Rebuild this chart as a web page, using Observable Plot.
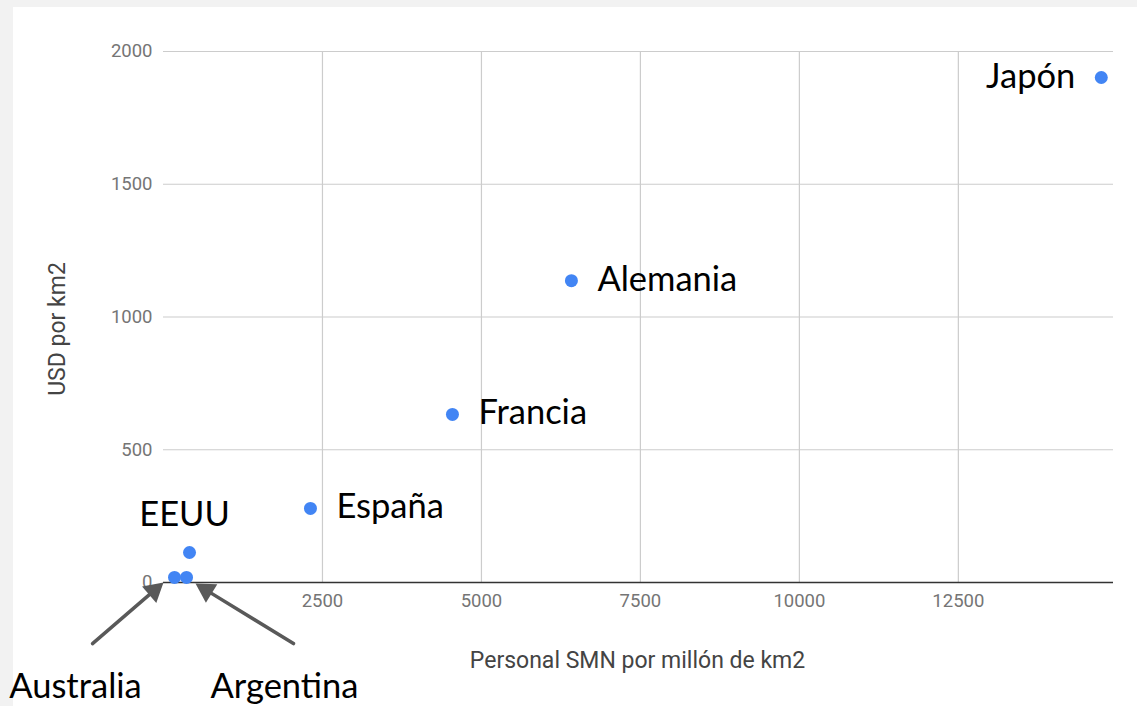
<!DOCTYPE html>
<html>
<head>
<meta charset="utf-8">
<script src="https://cdn.jsdelivr.net/npm/d3@7"></script>
<script src="https://cdn.jsdelivr.net/npm/@observablehq/plot@0.6"></script>
<style>
  html, body { margin: 0; padding: 0; background: #f2f2f2; width: 1137px; height: 706px; overflow: hidden; }
  #chart { position: absolute; left: 13px; top: 7px; }
  #chart svg { background: #ffffff; display: block; overflow: visible; }
</style>
</head>
<body>
<div id="chart"></div>
<script>
// ---- data ----
const countries = ["Japón", "Alemania", "Francia", "España", "EEUU", "Australia", "Argentina"];
const personalSMN = [14748, 6415, 4544, 2311, 409, 173, 362];   // Personal SMN por millón de km2
const usdPorKm2  = [1902, 1137, 633, 279, 113, 19, 19];          // USD por km2
const labelSide  = ["left", "right", "right", "right", "above", "below-left", "below-right"];
const xTicks = [2500, 5000, 7500, 10000, 12500];
const yTicks = [0, 500, 1000, 1500, 2000];
const xTitle = "Personal SMN por millón de km2";
const yTitle = "USD por km2";
// annotation arrows (data units): from label toward point
const arrowLabels = ["Australia", "Argentina"];
const arrowFromX = [-1116, 2044];
const arrowFromY = [-230, -230];
const arrowToX = [0, 503];
const arrowToY = [0, -4];

const points = countries.map((c, i) => ({country: c, x: personalSMN[i], y: usdPorKm2[i], side: labelSide[i]}));
const arrows = arrowLabels.map((c, i) => ({c, x1: arrowFromX[i], y1: arrowFromY[i], x2: arrowToX[i], y2: arrowToY[i]}));

const labelFont = "Lato, 'Open Sans', sans-serif";
const labelSize = 34.5;
const side = s => points.filter(d => d.side === s);

const dims = {
  width: 1124,
  height: 699,
  marginLeft: 150,
  marginRight: 24,
  marginTop: 44,
  marginBottom: 124,
  x: {domain: [0, 14940]},
  y: {domain: [0, 2000]}
};

// first pass: obtain the scales to orient the filled arrowheads
const probe = Plot.plot({...dims, marks: [Plot.ruleY([0])]});
const sx = probe.scale("x"), sy = probe.scale("y");
const headHalf = 6.3; // d3 triangle parameter: tip at 2*headHalf from centre
const headMarks = arrows.map(a => {
  const px1 = sx.apply(a.x1), py1 = sy.apply(a.y1), px2 = sx.apply(a.x2), py2 = sy.apply(a.y2);
  const len = Math.hypot(px2 - px1, py2 - py1);
  const ux = (px2 - px1) / len, uy = (py2 - py1) / len;
  const angle = Math.atan2(ux, -uy) * 180 / Math.PI;
  const area = headHalf * headHalf * 3 * Math.sqrt(3);
  return Plot.dot([a], {
    x: "x2", y: "y2", dx: -ux * 2 * headHalf, dy: -uy * 2 * headHalf,
    symbol: "triangle", r: Math.sqrt(area / Math.PI), rotate: angle,
    fill: "#595959", stroke: "none"
  });
});

const chart = Plot.plot({
  ...dims,
  style: {fontFamily: "Roboto, sans-serif", fontSize: "18.5px", color: "#757575", background: "#fff", overflow: "visible"},
  marks: [
    Plot.gridX(xTicks, {stroke: "#cccccc", strokeOpacity: 1, strokeWidth: 1.2}),
    Plot.gridY(yTicks.filter(d => d > 0), {stroke: "#cccccc", strokeOpacity: 1, strokeWidth: 1.2}),
    Plot.axisX(xTicks, {tickSize: 0, tickPadding: 11, tickFormat: d => String(d), label: null, fill: "#757575", fontSize: 18.5}),
    Plot.axisY(yTicks, {tickSize: 0, tickPadding: 11, tickFormat: d => String(d), label: null, fill: "#757575", fontSize: 18.5}),
    Plot.ruleY([0], {stroke: "#333333", strokeWidth: 1.5}),
    Plot.text([xTitle], {frameAnchor: "bottom", textAnchor: "middle", lineAnchor: "middle", dx: -1, dy: 78, fill: "#444444", fontSize: 23, fontFamily: "Roboto, sans-serif"}),
    Plot.text([yTitle], {frameAnchor: "left", textAnchor: "middle", lineAnchor: "middle", rotate: -90, dx: -106, dy: 12, fill: "#444444", fontSize: 23, fontFamily: "Roboto, sans-serif"}),
    Plot.dot(points, {x: "x", y: "y", r: 6.5, fill: "#4285f4", stroke: "none"}),
    Plot.text(side("right"), {x: "x", y: "y", text: "country", textAnchor: "start", dx: 26, dy: -1, fill: "#000", fontSize: labelSize, fontFamily: labelFont}),
    Plot.text(side("left"), {x: "x", y: "y", text: "country", textAnchor: "end", dx: -26, dy: -1, fill: "#000", fontSize: labelSize, fontFamily: labelFont}),
    Plot.text(side("above"), {x: "x", y: "y", text: "country", dx: -5, dy: -38, fill: "#000", fontSize: labelSize, fontFamily: labelFont}),
    Plot.text(side("below-left"), {x: "x", y: "y", text: "country", dx: -99, dy: 109, fill: "#000", fontSize: labelSize, fontFamily: labelFont}),
    Plot.text(side("below-right"), {x: "x", y: "y", text: "country", dx: 98, dy: 109, fill: "#000", fontSize: labelSize, fontFamily: labelFont}),
    Plot.arrow(arrows, {x1: "x1", y1: "y1", x2: "x2", y2: "y2", stroke: "#595959", strokeWidth: 3.5, headLength: 0, insetEnd: 14}),
    ...headMarks
  ]
});
document.getElementById("chart").appendChild(chart);
</script>
</body>
</html>
